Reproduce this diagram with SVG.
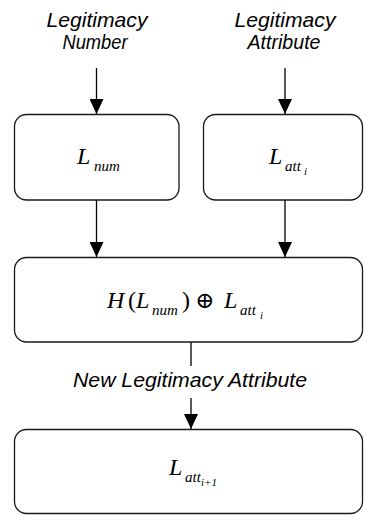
<svg xmlns="http://www.w3.org/2000/svg" width="365" height="515" viewBox="0 0 365 515">
<defs>
<marker id="ah" markerUnits="userSpaceOnUse" markerWidth="16" markerHeight="14" viewBox="0 0 16 14" refX="15" refY="7" orient="auto">
<path d="M0,0 L15,7 L0,14 Z" fill="#000"/>
</marker>
</defs>
<style>
.box{fill:#fff;stroke:#1a1a1a;stroke-width:1.3}
.lbl{font-family:"Liberation Sans",Arial,sans-serif;font-style:italic;font-size:21px;fill:#000}
.m{font-family:"Liberation Serif","Times New Roman",serif;font-style:italic;font-size:24px;fill:#000}
.s{font-family:"Liberation Serif","Times New Roman",serif;font-style:italic;font-size:15px;fill:#000}
.ss{font-family:"Liberation Serif","Times New Roman",serif;font-style:italic;font-size:11px;fill:#000}
.r{font-family:"Liberation Serif","DejaVu Serif",serif;font-size:24px;fill:#000}
.op{font-family:"DejaVu Serif","Liberation Serif",serif;font-size:23px;fill:#000}
.edge{stroke:#000;stroke-width:1.3;fill:none}
</style>
<g id="connectors">
<line class="edge" x1="96.5" y1="68" x2="96.5" y2="114" marker-end="url(#ah)"/>
<line class="edge" x1="285" y1="68" x2="285" y2="114" marker-end="url(#ah)"/>
<line class="edge" x1="96.5" y1="200" x2="96.5" y2="257" marker-end="url(#ah)"/>
<line class="edge" x1="285" y1="200" x2="285" y2="257" marker-end="url(#ah)"/>
<line class="edge" x1="191" y1="342" x2="191" y2="366"/>
<line class="edge" x1="191" y1="398" x2="191" y2="429" marker-end="url(#ah)"/>
<text class="lbl" x="190" y="387" text-anchor="middle" textLength="234" lengthAdjust="spacingAndGlyphs">New Legitimacy Attribute</text>
</g>
<g id="in-number">
<text class="lbl" x="97" y="27" text-anchor="middle" textLength="101" lengthAdjust="spacingAndGlyphs">Legitimacy</text>
<text class="lbl" x="95" y="49" text-anchor="middle" textLength="65" lengthAdjust="spacingAndGlyphs">Number</text>
</g>
<g id="in-attribute">
<text class="lbl" x="285" y="27" text-anchor="middle" textLength="101" lengthAdjust="spacingAndGlyphs">Legitimacy</text>
<text class="lbl" x="284" y="49" text-anchor="middle" textLength="73" lengthAdjust="spacingAndGlyphs">Attribute</text>
</g>
<g id="lnum">
<rect class="box" x="14.5" y="114.5" width="164.5" height="85.5" rx="12"/>
<text class="m" x="77" y="164">L</text>
<text class="s" x="94" y="171">num</text>
</g>
<g id="latt">
<rect class="box" x="203.5" y="114.5" width="159" height="85.5" rx="12"/>
<text class="m" x="269" y="164">L</text>
<text class="s" x="285" y="171">att</text>
<text class="ss" x="304" y="175">i</text>
</g>
<g id="xor">
<rect class="box" x="14.5" y="257.5" width="348" height="84.5" rx="12"/>
<text class="m" x="107" y="308">H</text>
<text class="r" x="128" y="308">(</text>
<text class="m" x="136" y="308">L</text>
<text class="s" x="152" y="315">num</text>
<text class="r" x="182" y="308">)</text>
<text class="op" x="195" y="308">⊕</text>
<text class="m" x="224" y="308">L</text>
<text class="s" x="240" y="315">att</text>
<text class="ss" x="260" y="319">i</text>
</g>
<g id="lnext">
<rect class="box" x="14.5" y="429.5" width="348" height="84" rx="12"/>
<text class="m" x="169" y="475">L</text>
<text class="s" x="185" y="482">att</text>
<text class="ss" x="201" y="486">i+1</text>
</g>
</svg>
